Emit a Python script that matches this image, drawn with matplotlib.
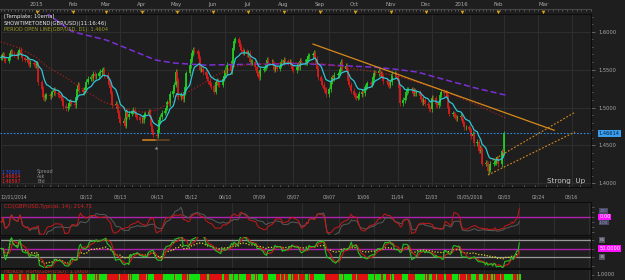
import numpy as np
import pandas as pd
import matplotlib
matplotlib.use("Agg")
import matplotlib.pyplot as plt
import matplotlib.transforms as mtrans

plt.rcParams['font.family'] = ['DejaVu Sans']

# ---------------- DATA (daily closes, one value per weekday) ----------------
close_2014_12 = [1.5660, 1.5690, 1.5700, 1.5640, 1.5620, 1.5660, 1.5720, 1.5740, 1.5710, 1.5700,
                 1.5680, 1.5730, 1.5760, 1.5700, 1.5650, 1.5630, 1.5640, 1.5600, 1.5570, 1.5590,
                 1.5580, 1.5560, 1.5580]
close_2015_01 = [1.5570, 1.5330, 1.5250, 1.5140, 1.5120, 1.5150, 1.5160, 1.5150, 1.5180, 1.5200,
                 1.5230, 1.5190, 1.5180, 1.5160, 1.5130, 1.5090, 1.5020, 1.4990, 1.5010, 1.5060,
                 1.5080, 1.5050]
close_2015_02 = [1.5030, 1.5140, 1.5250, 1.5300, 1.5230, 1.5200, 1.5230, 1.5260, 1.5340, 1.5380,
                 1.5400, 1.5390, 1.5440, 1.5410, 1.5420, 1.5450, 1.5470, 1.5480, 1.5500, 1.5430]
close_2015_03 = [1.5370, 1.5300, 1.5260, 1.5180, 1.5030, 1.5050, 1.5010, 1.4930, 1.4850, 1.4800,
                 1.4820, 1.4760, 1.4950, 1.4880, 1.4920, 1.4950, 1.4970, 1.4920, 1.4880, 1.4870,
                 1.4830, 1.4840]
close_2015_04 = [1.4830, 1.4900, 1.4920, 1.4950, 1.4870, 1.4750, 1.4680, 1.4640, 1.4630, 1.4700,
                 1.4830, 1.4880, 1.4930, 1.4960, 1.5000, 1.5070, 1.5050, 1.5180, 1.5220, 1.5300,
                 1.5470, 1.5350]
close_2015_05 = [1.5140, 1.5170, 1.5110, 1.5200, 1.5270, 1.5450, 1.5560, 1.5640, 1.5720, 1.5760,
                 1.5740, 1.5710, 1.5640, 1.5500, 1.5510, 1.5470, 1.5430, 1.5380, 1.5350, 1.5300,
                 1.5280]
close_2015_06 = [1.5210, 1.5330, 1.5350, 1.5310, 1.5300, 1.5380, 1.5420, 1.5500, 1.5460, 1.5560,
                 1.5480, 1.5610, 1.5790, 1.5880, 1.5900, 1.5850, 1.5800, 1.5760, 1.5730, 1.5740,
                 1.5700, 1.5720]
close_2015_07 = [1.5600, 1.5600, 1.5600, 1.5530, 1.5450, 1.5420, 1.5400, 1.5500, 1.5510, 1.5530,
                 1.5560, 1.5630, 1.5600, 1.5600, 1.5580, 1.5500, 1.5530, 1.5510, 1.5550, 1.5600,
                 1.5590, 1.5630, 1.5610]
close_2015_08 = [1.5590, 1.5600, 1.5560, 1.5510, 1.5490, 1.5530, 1.5570, 1.5530, 1.5620, 1.5600,
                 1.5600, 1.5600, 1.5640, 1.5680, 1.5690, 1.5700, 1.5720, 1.5640, 1.5510, 1.5400,
                 1.5350]
close_2015_09 = [1.5300, 1.5240, 1.5230, 1.5180, 1.5240, 1.5340, 1.5400, 1.5390, 1.5430, 1.5430,
                 1.5460, 1.5510, 1.5600, 1.5510, 1.5550, 1.5480, 1.5350, 1.5300, 1.5220, 1.5170,
                 1.5150, 1.5130]
close_2015_10 = [1.5150, 1.5180, 1.5210, 1.5190, 1.5270, 1.5280, 1.5320, 1.5310, 1.5330, 1.5400,
                 1.5460, 1.5450, 1.5480, 1.5440, 1.5450, 1.5410, 1.5350, 1.5340, 1.5300, 1.5290,
                 1.5330, 1.5440]
close_2015_11 = [1.5440, 1.5420, 1.5350, 1.5260, 1.5060, 1.5100, 1.5130, 1.5200, 1.5230, 1.5230,
                 1.5240, 1.5190, 1.5220, 1.5190, 1.5200, 1.5150, 1.5110, 1.5070, 1.5100, 1.5050,
                 1.5030]
close_2015_12 = [1.4990, 1.4980, 1.5130, 1.5120, 1.5040, 1.5030, 1.5060, 1.5170, 1.5210, 1.5190,
                 1.5200, 1.5140, 1.4990, 1.4920, 1.4920, 1.4900, 1.4880, 1.4860, 1.4870, 1.4890,
                 1.4830, 1.4790, 1.4740]
close_2016_01 = [1.4740, 1.4720, 1.4700, 1.4620, 1.4650, 1.4530, 1.4550, 1.4430, 1.4470, 1.4440,
                 1.4260, 1.4270, 1.4260, 1.4160, 1.4180, 1.4260, 1.4270, 1.4270, 1.4310, 1.4330,
                 1.4250]
close_2016_02 = [1.4420, 1.4410, 1.46614]

last_price = 1.46614
bid_price = 1.46597
spread = 1.70000
cci_last = 214.71

# moving averages
ma_long_dates = ["2015-01-09", "2015-01-17", "2015-01-31", "2015-03-01", "2015-04-12", "2015-04-28",
                 "2015-05-23", "2015-07-03", "2015-08-14", "2015-09-08", "2015-10-17", "2015-11-05",
                 "2015-11-21", "2015-12-16", "2016-01-10", "2016-02-04"]
ma_long_vals = [1.6247, 1.6155, 1.6000, 1.5890, 1.5626, 1.5586, 1.5560, 1.5570, 1.5580, 1.5560,
                1.5530, 1.5500, 1.5467, 1.5360, 1.5255, 1.5163]
ma_slow_dates = ["2014-12-01", "2014-12-17", "2014-12-31", "2015-01-10", "2015-01-25", "2015-02-10",
                 "2015-02-27", "2015-03-15", "2015-04-01", "2015-04-12", "2015-04-26", "2015-05-09",
                 "2015-05-23", "2015-05-31", "2015-06-19", "2015-07-03", "2015-08-06", "2015-08-31",
                 "2015-09-16", "2015-10-03", "2015-10-19", "2015-11-05", "2015-11-21", "2015-12-08",
                 "2015-12-24", "2016-01-10", "2016-02-04"]
ma_slow_vals = [1.5868, 1.5784, 1.5665, 1.5533, 1.5401, 1.5229, 1.5070, 1.4991, 1.4938, 1.4964,
                1.5070, 1.5202, 1.5321, 1.5408, 1.5546, 1.5570, 1.5590, 1.5580, 1.5540, 1.5500,
                1.5460, 1.5410, 1.5330, 1.5250, 1.5150, 1.5040, 1.4860]

# drawn trend lines
trend_dates = ["2015-08-24", "2016-03-05"]
trend_vals = [1.5837, 1.4700]
chan_low_dates = ["2016-01-20", "2016-03-18"]
chan_low_vals = [1.4109, 1.4677]
chan_up_dates = ["2016-01-24", "2016-03-18"]
chan_up_vals = [1.4305, 1.4937]
support_dates = ["2015-04-01", "2015-04-12", "2015-04-23"]
support_val = 1.4571

price_ticks = [1.40, 1.45, 1.50, 1.55, 1.60]
osc_levels = [65, 35]
osc_mid = 50
top_dates = ["2015-01-01", "2015-02-01", "2015-03-01", "2015-04-01", "2015-05-01", "2015-06-01",
             "2015-07-01", "2015-08-01", "2015-09-01", "2015-10-01", "2015-11-01", "2015-12-01",
             "2016-01-01", "2016-02-01", "2016-03-01"]
top_labels = ["2015", "Feb", "Mar", "Apr", "May", "Jun", "Jul", "Aug", "Sep", "Oct", "Nov", "Dec",
              "2016", "Feb", "Mar"]
bot_dates = ["2014-12-01", "2015-01-13", "2015-02-12", "2015-03-13", "2015-04-13", "2015-05-12",
             "2015-06-10", "2015-07-09", "2015-08-07", "2015-09-07", "2015-10-06", "2015-11-04",
             "2015-12-03", "2016-01-05", "2016-02-03", "2016-02-24", "2016-03-16"]
bot_labels = ["12/01/2014", "", "02/12", "03/13", "04/13", "05/12", "06/10", "07/09", "08/07",
              "09/07", "10/06", "11/04", "12/03", "01/05/2016", "02/03", "02/24", "03/16"]

# ---------------- assemble series ----------------
months = [("2014-12", close_2014_12), ("2015-01", close_2015_01), ("2015-02", close_2015_02),
          ("2015-03", close_2015_03), ("2015-04", close_2015_04), ("2015-05", close_2015_05),
          ("2015-06", close_2015_06), ("2015-07", close_2015_07), ("2015-08", close_2015_08),
          ("2015-09", close_2015_09), ("2015-10", close_2015_10), ("2015-11", close_2015_11),
          ("2015-12", close_2015_12), ("2016-01", close_2016_01), ("2016-02", close_2016_02)]
all_dates, all_close = [], []
for ym, vals in months:
    start = pd.Timestamp(ym + "-01")
    bd = pd.bdate_range(start, start + pd.offsets.MonthEnd(0))[:len(vals)]
    all_dates.extend(list(bd))
    all_close.extend(vals)

ORIGIN = pd.Timestamp("2014-12-01")
def dnum(ds):
    return np.array([(pd.Timestamp(d) - ORIGIN).days for d in ds], dtype=float)

x = dnum(all_dates)
c = np.array(all_close)
o = np.concatenate([[c[0]], c[:-1]])
WICK = 0.0035
hi = np.maximum(o, c) + WICK
lo = np.minimum(o, c) - WICK
cs = pd.Series(c)
ema10 = cs.ewm(span=10, adjust=False).mean().values

def rsi(s, n):
    d = s.diff().fillna(0)
    up_ = d.clip(lower=0).ewm(alpha=1.0 / n, adjust=True).mean()
    dn_ = (-d.clip(upper=0)).ewm(alpha=1.0 / n, adjust=True).mean()
    r = 100 - 100 / (1 + up_ / dn_.replace(0, np.nan))
    return r.fillna(50)

def cci(tp, n):
    sma = tp.rolling(n, min_periods=3).mean()
    mad = tp.rolling(n, min_periods=3).apply(lambda a: np.mean(np.abs(a - a.mean())), raw=True)
    return ((tp - sma) / (0.015 * mad)).fillna(0).values

tp = pd.Series((hi + lo + c) / 3.0)
cci14 = cci(tp, 14)
cci_slow = cci(tp, 34)
rsi14 = rsi(cs, 14)
rsi_fast = rsi14.values
rsi_mid = rsi14.rolling(4, min_periods=1).mean().values
rsi_slow = rsi(cs, 50).values

up = c >= o

# ---------------- scale (bars compressed, future area wider) ----------------
K0, P0, S1 = 31.0, 38.0, 1.207
K1 = 429.0
P1 = P0 + (K1 - K0) * S1
S2 = 1.65
def fwd(d):
    d = np.asarray(d, float)
    return np.where(d <= K1, P0 + (d - K0) * S1, P1 + (d - K1) * S2)
def inv(p):
    p = np.asarray(p, float)
    return np.where(p <= P1, K0 + (p - P0) / S1, K1 + (p - P1) / S2)

XL = (-0.6, 472.4)

# ---------------- figure ----------------
W, H = 625.0, 280.0
BG = '#1e1e1e'
GRID = '#2f2f2f'
TXT = '#a8a8a8'
GREEN = '#22d022'
RED = '#d81c1c'
fig = plt.figure(figsize=(6.25, 2.8), dpi=100, facecolor=BG)

def px_axes(x0, y0, x1, y1):
    a = fig.add_axes([x0 / W, 1 - y1 / H, (x1 - x0) / W, (y1 - y0) / H])
    a.set_facecolor(BG)
    a.set_xscale('function', functions=(fwd, inv))
    a.set_xlim(*XL)
    for s in a.spines.values():
        s.set_color('#0c0c0c')
        s.set_linewidth(0.8)
    return a

grid_x = dnum(bot_dates)

def vgrid(a):
    for gx in grid_x:
        a.axvline(gx, color=GRID, lw=0.7, zorder=0)

# ---- top date strip
ax_top = px_axes(0, 9, 591, 14)
ax_top.set_ylim(0, 1)
ax_top.set_yticks([])
ax_top.xaxis.tick_top()
ax_top.set_xticks(dnum(top_dates))
ax_top.set_xticklabels(top_labels)
ax_top.tick_params(axis='x', which='major', length=0, pad=1.6, labelsize=3.9, colors=TXT)
ax_top.set_xticks(dnum(pd.date_range("2014-12-01", "2016-03-31", freq="3D")), minor=True)
ax_top.tick_params(axis='x', which='minor', top=True, bottom=False, direction='in', length=1.4,
                   width=0.5, color='#777777')
ax_top.spines['top'].set_color('#444444')
ax_top.spines['bottom'].set_visible(False)
ax_top.spines['left'].set_visible(False)
ax_top.spines['right'].set_visible(False)
ax_top.scatter(dnum(top_dates), np.full(len(top_dates), 0.45), marker='v', s=7, color='#d9a21b',
               linewidths=0, zorder=3, clip_on=False)

# ---- main price panel
ax = px_axes(0, 14, 591, 187)
ax.set_ylim(1.39512, 1.62335)
vgrid(ax)
for p in price_ticks:
    ax.axhline(p, color=GRID, lw=0.7, zorder=0)

body_lo = np.minimum(o, c)
body_hi = np.maximum(np.maximum(o, c), body_lo + 0.0006)
for mask, col in ((up, GREEN), (~up, RED)):
    ax.vlines(x[mask], lo[mask], hi[mask], color=col, lw=0.55, zorder=2)
    ax.vlines(x[mask], body_lo[mask], body_hi[mask], color=col, lw=1.25, zorder=2)

ax.plot(dnum(ma_long_dates), ma_long_vals, color='#7b2fd6', lw=1.1, ls=(0, (4, 2)), zorder=3)
ax.plot(dnum(ma_slow_dates), ma_slow_vals, color='#a01e1e', lw=0.9, ls=(0, (1, 1.6)), zorder=3)
ax.plot(x, ema10, color='#2ec6d6', lw=0.9, zorder=4)
ax.axhline(last_price, color='#2f8fe8', lw=0.8, ls=(0, (1.4, 1.6)), zorder=3)
ax.plot(dnum(trend_dates), trend_vals, color='#d88a1a', lw=0.9, zorder=4)
ax.plot(dnum(chan_low_dates), chan_low_vals, color='#d88a1a', lw=0.8, ls=(0, (1.6, 1.6)), zorder=4)
ax.plot(dnum(chan_up_dates), chan_up_vals, color='#d88a1a', lw=0.8, ls=(0, (1.6, 1.6)), zorder=4)
sd = dnum(support_dates)
ax.plot(sd[:2], [support_val] * 2, color='#e08a1e', lw=1.1, zorder=4)
ax.plot(sd[1:], [support_val] * 2, color='#6b4a20', lw=1.1, zorder=4)
ax.scatter([sd[1]], [1.4466], marker='*', s=8, color='#9a9a9a', linewidths=0, zorder=4)

ax.yaxis.tick_right()
ax.set_yticks(price_ticks)
ax.set_yticklabels([f"{p:.4f}" for p in price_ticks])
ax.set_yticks(np.arange(1.40, 1.6201, 0.01), minor=True)
ax.tick_params(axis='y', which='major', length=3.2, width=0.5, color='#808080', pad=1.8,
               labelsize=3.7, labelcolor=TXT)
ax.tick_params(axis='y', which='minor', length=1.6, width=0.4, color='#808080')
ax.set_xticks(grid_x)
ax.set_xticklabels(bot_labels)
ax.tick_params(axis='x', which='major', length=0, pad=5.5, labelsize=3.3, labelcolor=TXT)
ax.get_xticklabels()[0].set_ha('left')
ax.set_xticks(dnum(pd.date_range("2014-12-01", "2016-03-31", freq="W-MON")), minor=True)
ax.tick_params(axis='x', which='minor', direction='in', length=1.8, width=0.5, color='#777777')

tr = mtrans.blended_transform_factory(ax.transAxes, ax.transData)
ax.text(1.013, last_price, f"{last_price:.5f}", transform=tr, fontsize=3.7, color='#0c2038',
        va='center', ha='left', bbox=dict(facecolor='#3a9ef0', edgecolor='none', pad=0.7),
        clip_on=False, zorder=6)

# header texts
fig.text(4 / W, 1 - 16.5 / H, "[Template: 10ema]", fontsize=3.8, color='#e6e6e6', va='center')
fig.text(4 / W, 1 - 23 / H, "SHOWTIMETOEND(GBP/USD)(11:16:46)", fontsize=3.8, color='#e6e6e6',
         va='center')
fig.text(4 / W, 1 - 29.3 / H, "PERIOD OPEN LINE(GBP/USD, D1): 1.4604", fontsize=3.6,
         color='#9a9a28', va='center')
# bid/ask block
fig.text(1 / W, 1 - 172 / H, f"{spread:.5f}", fontsize=3.4, color='#2a50ff', va='center')
fig.text(37 / W, 1 - 172 / H, "Spread", fontsize=3.4, color='#8c8c8c', va='center')
fig.text(1 / W, 1 - 176.7 / H, f"{last_price:.5f}", fontsize=3.4, color='#ff2424', va='center')
fig.text(37 / W, 1 - 176.7 / H, "Ask", fontsize=3.4, color='#8c8c8c', va='center')
fig.text(1 / W, 1 - 181.3 / H, f"{bid_price:.5f}", fontsize=3.4, color='#ff2424', va='center')
fig.text(37 / W, 1 - 181.3 / H, "Bid", fontsize=3.4, color='#8c8c8c', va='center')
fig.text(566.5 / W, 1 - 181 / H, "Strong  Up", fontsize=5.2, color='#c8c8c8', va='center',
         ha='center')

# ---- CCI panel
ax_c = px_axes(0, 202, 591, 235)
ax_c.set_ylim(-260, 400)
vgrid(ax_c)
ax_c.axhline(100, color='#b020b0', lw=1.0, zorder=1)
ax_c.plot(x, cci_slow, color='#5a5a5a', lw=0.7, zorder=2)
ax_c.plot(x, cci14, color='#c81818', lw=0.7, zorder=3)
ax_c.set_xticks([])
ax_c.yaxis.tick_right()
ax_c.set_yticks([-200, -100, 0, 100, 200, 300])
ax_c.set_yticklabels([])
ax_c.tick_params(axis='y', length=2.4, width=0.4, color='#808080')
fig.text(4 / W, 1 - 206.5 / H, f"CCI(GBP/USD,Typical, 14): {cci_last:.2f}", fontsize=3.8,
         color='#d82020', va='center')
trc = mtrans.blended_transform_factory(ax_c.transAxes, ax_c.transData)
ax_c.text(1.014, 220, "200", transform=trc, fontsize=3.0, color='#9090b0', va='center',
          bbox=dict(facecolor='#4a4a66', edgecolor='none', pad=0.4), clip_on=False)
ax_c.text(1.014, -10, "-100", transform=trc, fontsize=3.0, color='#9090b0', va='center',
          bbox=dict(facecolor='#4a4a66', edgecolor='none', pad=0.4), clip_on=False)
ax_c.text(1.014, 100, "0.00", transform=trc, fontsize=3.6, color='#ffffff', va='center',
          bbox=dict(facecolor='#ff10ff', edgecolor='none', pad=0.6), clip_on=False, zorder=6)

# ---- oscillator panel
ax_r = px_axes(0, 237, 591, 268)
ax_r.set_ylim(15.6, 70.3)
vgrid(ax_r)
for lv in osc_levels:
    ax_r.axhline(lv, color='#9a9a9a', lw=0.9, zorder=1)
ax_r.axhline(osc_mid, color='#b020b0', lw=1.0, zorder=1)
ax_r.plot(x, rsi_slow, color='#d8d820', lw=0.9, ls=(0, (1, 1.4)), zorder=2)
ax_r.plot(x, rsi_mid, color='#d01818', lw=0.8, zorder=3)
ax_r.plot(x, rsi_fast, color='#22c022', lw=0.8, zorder=4)
ax_r.set_xticks([])
ax_r.yaxis.tick_right()
ax_r.set_yticks([20, 35, 50, 65])
ax_r.set_yticklabels([])
ax_r.tick_params(axis='y', length=2.4, width=0.4, color='#808080')
trr = mtrans.blended_transform_factory(ax_r.transAxes, ax_r.transData)
for lv in osc_levels:
    ax_r.text(1.014, lv, f"{lv}", transform=trr, fontsize=3.0, color='#c0c0c0', va='center',
              bbox=dict(facecolor='#555566', edgecolor='none', pad=0.4), clip_on=False)
ax_r.text(1.014, osc_mid, "50.0000", transform=trr, fontsize=3.6, color='#ffffff', va='center',
          bbox=dict(facecolor='#ff10ff', edgecolor='none', pad=0.6), clip_on=False, zorder=6)

# ---- Heiken Ashi strip (bar direction)
ax_h = px_axes(0, 269, 591, 280)
ax_h.set_ylim(0, 1)
vgrid(ax_h)
widths = np.diff(np.concatenate([x, [x[-1] + 1]]))
ax_h.bar(x, 0.56, width=widths, bottom=0, align='edge',
         color=np.where(up, '#10e010', '#e01010'), linewidth=0, zorder=3)
ax_h.text(4 / 591, 0.78, "HEIKEN_ASHI(GBP/USD): 1.0000", transform=ax_h.transAxes, fontsize=3.8,
          color='#d82020', va='center', zorder=2)
ax_h.set_xticks([])
ax_h.yaxis.tick_right()
ax_h.set_yticks([0.5])
ax_h.set_yticklabels(["1.0000"])
ax_h.tick_params(axis='y', length=2.4, width=0.4, color='#808080', pad=1.8, labelsize=3.7,
                 labelcolor=TXT)

fig.savefig("out.png", dpi=100, facecolor=BG)
